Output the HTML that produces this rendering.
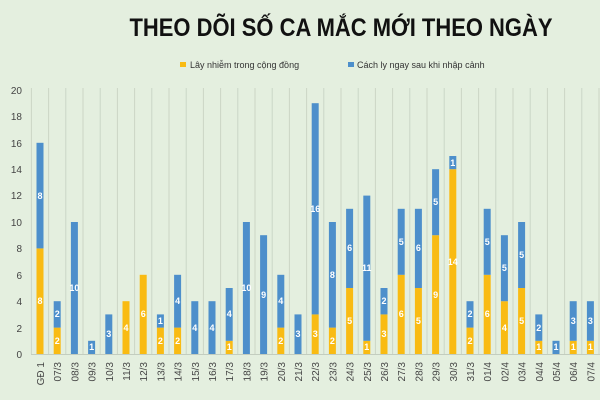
<!DOCTYPE html>
<html><head><meta charset="utf-8"><style>
body{margin:0;background:#e4efdf}
svg{display:block}
text{font-family:"Liberation Sans",sans-serif}
</style></head><body>
<svg width="600" height="400" viewBox="0 0 600 400">
<rect width="600" height="400" fill="#e4efdf"/>
<text x="341" y="36" text-anchor="middle" font-size="25" font-weight="bold" fill="#111" textLength="423" lengthAdjust="spacingAndGlyphs">THEO DÕI SỐ CA MẮC MỚI THEO NGÀY</text>
<rect x="180" y="62" width="6" height="5" fill="#f9bb13"/>
<text x="190" y="68" font-size="9" fill="#333">Lây nhiễm trong cộng đồng</text>
<rect x="348" y="62" width="6" height="5" fill="#4d8fcb"/>
<text x="357" y="68" font-size="9" fill="#333">Cách ly ngay sau khi nhập cảnh</text>
<g stroke="#cbd6c6" stroke-width="1">
<line x1="31.4" y1="88" x2="31.4" y2="354"/><line x1="48.6" y1="88" x2="48.6" y2="354"/><line x1="65.8" y1="88" x2="65.8" y2="354"/><line x1="83" y1="88" x2="83" y2="354"/><line x1="100.2" y1="88" x2="100.2" y2="354"/><line x1="117.4" y1="88" x2="117.4" y2="354"/><line x1="134.6" y1="88" x2="134.6" y2="354"/><line x1="151.8" y1="88" x2="151.8" y2="354"/><line x1="169" y1="88" x2="169" y2="354"/><line x1="186.2" y1="88" x2="186.2" y2="354"/><line x1="203.4" y1="88" x2="203.4" y2="354"/><line x1="220.6" y1="88" x2="220.6" y2="354"/><line x1="237.8" y1="88" x2="237.8" y2="354"/><line x1="255" y1="88" x2="255" y2="354"/><line x1="272.2" y1="88" x2="272.2" y2="354"/><line x1="289.4" y1="88" x2="289.4" y2="354"/><line x1="306.6" y1="88" x2="306.6" y2="354"/><line x1="323.8" y1="88" x2="323.8" y2="354"/><line x1="341" y1="88" x2="341" y2="354"/><line x1="358.2" y1="88" x2="358.2" y2="354"/><line x1="375.4" y1="88" x2="375.4" y2="354"/><line x1="392.6" y1="88" x2="392.6" y2="354"/><line x1="409.8" y1="88" x2="409.8" y2="354"/><line x1="427" y1="88" x2="427" y2="354"/><line x1="444.2" y1="88" x2="444.2" y2="354"/><line x1="461.4" y1="88" x2="461.4" y2="354"/><line x1="478.6" y1="88" x2="478.6" y2="354"/><line x1="495.8" y1="88" x2="495.8" y2="354"/><line x1="513" y1="88" x2="513" y2="354"/><line x1="530.2" y1="88" x2="530.2" y2="354"/><line x1="547.4" y1="88" x2="547.4" y2="354"/><line x1="564.6" y1="88" x2="564.6" y2="354"/><line x1="581.8" y1="88" x2="581.8" y2="354"/><line x1="599" y1="88" x2="599" y2="354"/>
<line x1="31" y1="354.5" x2="600" y2="354.5" stroke="#c3cdbf"/>
</g>
<g font-size="10" fill="#444" text-anchor="end">
<text x="22" y="358">0</text><text x="22" y="332">2</text><text x="22" y="305">4</text><text x="22" y="279">6</text><text x="22" y="252">8</text><text x="22" y="226">10</text><text x="22" y="199">12</text><text x="22" y="173">14</text><text x="22" y="147">16</text><text x="22" y="120">18</text><text x="22" y="94">20</text>
</g>
<g transform="matrix(1 0 0 -13.2 0 354)">
<g fill="#f9bb13">
<rect x="36.5" y="0" width="7" height="8"/><rect x="53.7" y="0" width="7" height="2"/><rect x="122.5" y="0" width="7" height="4"/><rect x="139.7" y="0" width="7" height="6"/><rect x="156.9" y="0" width="7" height="2"/><rect x="174.1" y="0" width="7" height="2"/><rect x="225.7" y="0" width="7" height="1"/><rect x="277.3" y="0" width="7" height="2"/><rect x="311.7" y="0" width="7" height="3"/><rect x="328.9" y="0" width="7" height="2"/><rect x="346.1" y="0" width="7" height="5"/><rect x="363.3" y="0" width="7" height="1"/><rect x="380.5" y="0" width="7" height="3"/><rect x="397.7" y="0" width="7" height="6"/><rect x="414.9" y="0" width="7" height="5"/><rect x="432.1" y="0" width="7" height="9"/><rect x="449.3" y="0" width="7" height="14"/><rect x="466.5" y="0" width="7" height="2"/><rect x="483.7" y="0" width="7" height="6"/><rect x="500.9" y="0" width="7" height="4"/><rect x="518.1" y="0" width="7" height="5"/><rect x="535.3" y="0" width="7" height="1"/><rect x="569.7" y="0" width="7" height="1"/><rect x="586.9" y="0" width="7" height="1"/>
</g>
<g fill="#4d8fcb">
<rect x="36.5" y="8" width="7" height="8"/><rect x="53.7" y="2" width="7" height="2"/><rect x="70.9" y="0" width="7" height="10"/><rect x="88.1" y="0" width="7" height="1"/><rect x="105.3" y="0" width="7" height="3"/><rect x="156.9" y="2" width="7" height="1"/><rect x="174.1" y="2" width="7" height="4"/><rect x="191.3" y="0" width="7" height="4"/><rect x="208.5" y="0" width="7" height="4"/><rect x="225.7" y="1" width="7" height="4"/><rect x="242.9" y="0" width="7" height="10"/><rect x="260.1" y="0" width="7" height="9"/><rect x="277.3" y="2" width="7" height="4"/><rect x="294.5" y="0" width="7" height="3"/><rect x="311.7" y="3" width="7" height="16"/><rect x="328.9" y="2" width="7" height="8"/><rect x="346.1" y="5" width="7" height="6"/><rect x="363.3" y="1" width="7" height="11"/><rect x="380.5" y="3" width="7" height="2"/><rect x="397.7" y="6" width="7" height="5"/><rect x="414.9" y="5" width="7" height="6"/><rect x="432.1" y="9" width="7" height="5"/><rect x="449.3" y="14" width="7" height="1"/><rect x="466.5" y="2" width="7" height="2"/><rect x="483.7" y="6" width="7" height="5"/><rect x="500.9" y="4" width="7" height="5"/><rect x="518.1" y="5" width="7" height="5"/><rect x="535.3" y="1" width="7" height="2"/><rect x="552.5" y="0" width="7" height="1"/><rect x="569.7" y="1" width="7" height="3"/><rect x="586.9" y="1" width="7" height="3"/>
</g>
</g>
<g font-size="9" fill="#fff" text-anchor="middle" font-weight="bold">
<text x="40" y="304">8</text><text x="40" y="199">8</text><text x="57.2" y="344">2</text><text x="57.2" y="317">2</text><text x="74.4" y="291">10</text><text x="91.6" y="350">1</text><text x="108.8" y="337">3</text><text x="126" y="331">4</text><text x="143.2" y="317">6</text><text x="160.4" y="344">2</text><text x="160.4" y="324">1</text><text x="177.6" y="344">2</text><text x="177.6" y="304">4</text><text x="194.8" y="331">4</text><text x="212" y="331">4</text><text x="229.2" y="350">1</text><text x="229.2" y="317">4</text><text x="246.4" y="291">10</text><text x="263.6" y="298">9</text><text x="280.8" y="344">2</text><text x="280.8" y="304">4</text><text x="298" y="337">3</text><text x="315.2" y="337">3</text><text x="315.2" y="212">16</text><text x="332.4" y="344">2</text><text x="332.4" y="278">8</text><text x="349.6" y="324">5</text><text x="349.6" y="251">6</text><text x="366.8" y="350">1</text><text x="366.8" y="271">11</text><text x="384" y="337">3</text><text x="384" y="304">2</text><text x="401.2" y="317">6</text><text x="401.2" y="245">5</text><text x="418.4" y="324">5</text><text x="418.4" y="251">6</text><text x="435.6" y="298">9</text><text x="435.6" y="205">5</text><text x="452.8" y="265">14</text><text x="452.8" y="166">1</text><text x="470" y="344">2</text><text x="470" y="317">2</text><text x="487.2" y="317">6</text><text x="487.2" y="245">5</text><text x="504.4" y="331">4</text><text x="504.4" y="271">5</text><text x="521.6" y="324">5</text><text x="521.6" y="258">5</text><text x="538.8" y="350">1</text><text x="538.8" y="331">2</text><text x="556" y="350">1</text><text x="573.2" y="350">1</text><text x="573.2" y="324">3</text><text x="590.4" y="350">1</text><text x="590.4" y="324">3</text>
</g>
<g font-size="10" fill="#444" text-anchor="end">
<text transform="translate(44,362) rotate(-90)">GĐ 1</text><text transform="translate(61.2,362) rotate(-90)">07/3</text><text transform="translate(78.4,362) rotate(-90)">08/3</text><text transform="translate(95.6,362) rotate(-90)">09/3</text><text transform="translate(112.8,362) rotate(-90)">10/3</text><text transform="translate(130,362) rotate(-90)">11/3</text><text transform="translate(147.2,362) rotate(-90)">12/3</text><text transform="translate(164.4,362) rotate(-90)">13/3</text><text transform="translate(181.6,362) rotate(-90)">14/3</text><text transform="translate(198.8,362) rotate(-90)">15/3</text><text transform="translate(216,362) rotate(-90)">16/3</text><text transform="translate(233.2,362) rotate(-90)">17/3</text><text transform="translate(250.4,362) rotate(-90)">18/3</text><text transform="translate(267.6,362) rotate(-90)">19/3</text><text transform="translate(284.8,362) rotate(-90)">20/3</text><text transform="translate(302,362) rotate(-90)">21/3</text><text transform="translate(319.2,362) rotate(-90)">22/3</text><text transform="translate(336.4,362) rotate(-90)">23/3</text><text transform="translate(353.6,362) rotate(-90)">24/3</text><text transform="translate(370.8,362) rotate(-90)">25/3</text><text transform="translate(388,362) rotate(-90)">26/3</text><text transform="translate(405.2,362) rotate(-90)">27/3</text><text transform="translate(422.4,362) rotate(-90)">28/3</text><text transform="translate(439.6,362) rotate(-90)">29/3</text><text transform="translate(456.8,362) rotate(-90)">30/3</text><text transform="translate(474,362) rotate(-90)">31/3</text><text transform="translate(491.2,362) rotate(-90)">01/4</text><text transform="translate(508.4,362) rotate(-90)">02/4</text><text transform="translate(525.6,362) rotate(-90)">03/4</text><text transform="translate(542.8,362) rotate(-90)">04/4</text><text transform="translate(560,362) rotate(-90)">05/4</text><text transform="translate(577.2,362) rotate(-90)">06/4</text><text transform="translate(594.4,362) rotate(-90)">07/4</text>
</g>
</svg>
</body></html>
